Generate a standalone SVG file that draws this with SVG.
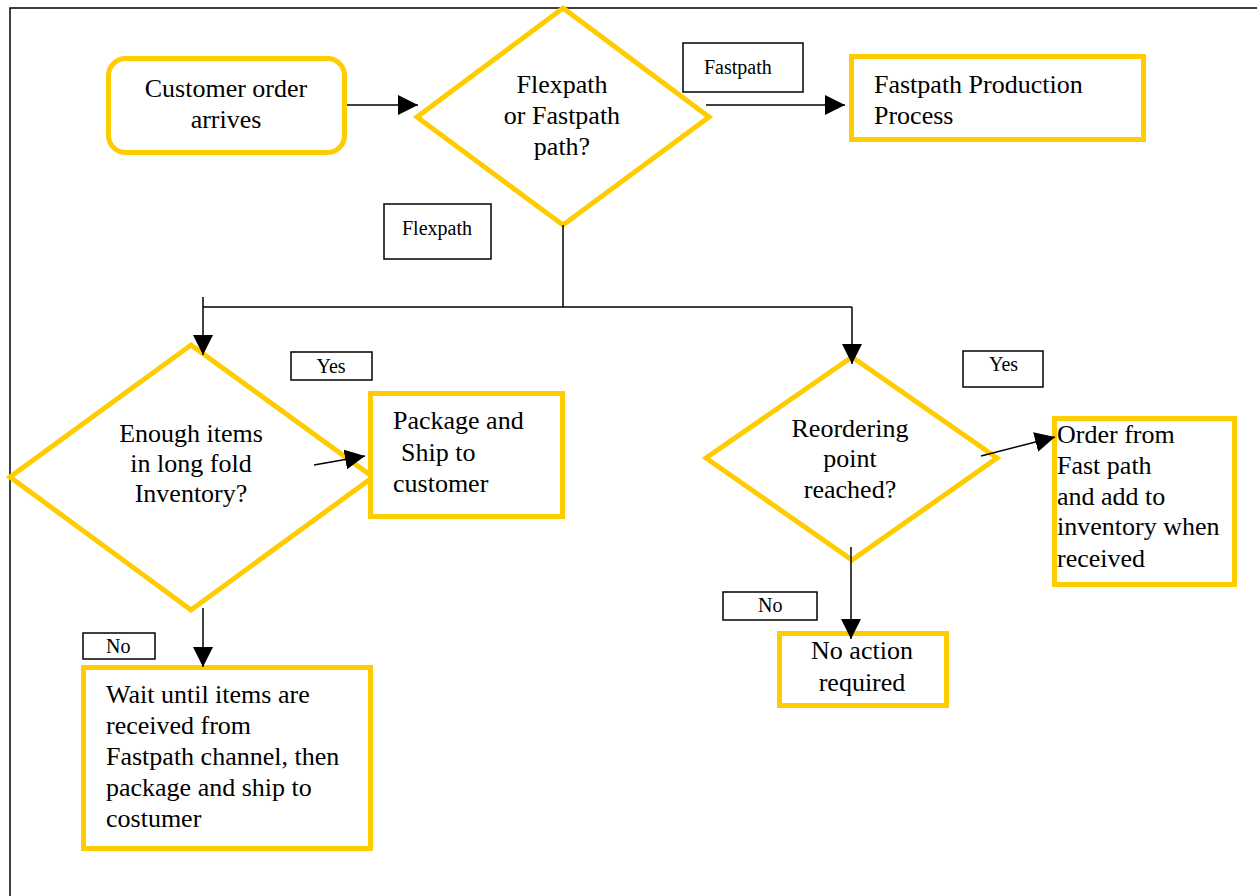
<svg xmlns="http://www.w3.org/2000/svg" width="1257" height="896" viewBox="0 0 1257 896">
<style>
  .node { fill: #ffffff; stroke: #FFCC00; stroke-width: 5; }
  .lbl { fill: #ffffff; stroke: #000000; stroke-width: 1.5; }
  .t { font-family: "Liberation Serif", "Times New Roman", serif; font-size: 26px; fill: #000000; }
  .s { font-family: "Liberation Serif", "Times New Roman", serif; font-size: 20px; fill: #000000; }
  .c { text-anchor: middle; }
  .conn { stroke: #000000; stroke-width: 1.5; fill: none; }
  .frame { stroke: #000000; stroke-width: 1.5; fill: none; }
</style>
<defs>
  <marker id="arr" markerUnits="userSpaceOnUse" markerWidth="21" markerHeight="20" refX="20" refY="10" orient="auto">
    <path d="M0,0 L20,10 L0,20 z" fill="#000000"/>
  </marker>
</defs>
<rect x="0" y="0" width="1257" height="896" fill="#ffffff"/>
<g id="frame">
  <path class="frame" d="M10,896 L10,8 L1257,8"/>
</g>

<g id="customer-order">
  <rect class="node" x="108.5" y="58.5" width="236" height="94" rx="17"/>
  <text class="t c" x="226" y="97">Customer order</text>
  <text class="t c" x="226" y="128">arrives</text>
</g>

<g id="path-decision">
  <polygon class="node" points="563,8 709,117 563,225 417,117"/>
  <text class="t c" x="562" y="93">Flexpath</text>
  <text class="t c" x="562" y="124">or Fastpath</text>
  <text class="t c" x="562" y="155">path?</text>
</g>

<g id="fastpath-production">
  <rect class="node" x="851.5" y="56.5" width="292" height="83"/>
  <text class="t" x="874" y="93">Fastpath Production</text>
  <text class="t" x="874" y="124">Process</text>
</g>

<g id="label-fastpath">
  <rect class="lbl" x="683" y="43" width="120" height="49"/>
  <text class="s" x="704" y="74">Fastpath</text>
</g>

<g id="label-flexpath">
  <rect class="lbl" x="384" y="204" width="107" height="55"/>
  <text class="s" x="402" y="235">Flexpath</text>
</g>

<g id="inventory-decision">
  <polygon class="node" points="191,345 373,477 191,610 10,477"/>
  <text class="t c" x="191" y="442">Enough items</text>
  <text class="t c" x="191" y="472">in long fold</text>
  <text class="t c" x="191" y="502">Inventory?</text>
</g>

<g id="package-ship">
  <rect class="node" x="370.5" y="393.5" width="192" height="123"/>
  <text class="t" x="393" y="429">Package and</text>
  <text class="t" x="401" y="461">Ship to</text>
  <text class="t" x="393" y="492">customer</text>
</g>

<g id="label-yes-1">
  <rect class="lbl" x="291" y="352" width="81" height="28"/>
  <text class="s c" x="331" y="373">Yes</text>
</g>

<g id="label-no-1">
  <rect class="lbl" x="83" y="633" width="72" height="26"/>
  <text class="s" x="106" y="653">No</text>
</g>

<g id="wait-items">
  <rect class="node" x="83.5" y="667.5" width="287" height="181"/>
  <text class="t" x="106" y="703">Wait until items are</text>
  <text class="t" x="106" y="734">received from</text>
  <text class="t" x="106" y="765">Fastpath channel, then</text>
  <text class="t" x="106" y="796">package and ship to</text>
  <text class="t" x="106" y="827">costumer</text>
</g>

<g id="reorder-decision">
  <polygon class="node" points="852,357 997,458 852,560 706,458"/>
  <text class="t c" x="850" y="437">Reordering</text>
  <text class="t c" x="850" y="467">point</text>
  <text class="t c" x="850" y="498">reached?</text>
</g>

<g id="label-yes-2">
  <rect class="lbl" x="963" y="351" width="80" height="36"/>
  <text class="s" x="989" y="371">Yes</text>
</g>

<g id="order-fastpath">
  <rect class="node" x="1054.5" y="418.5" width="180" height="166"/>
  <text class="t" x="1057" y="443">Order from</text>
  <text class="t" x="1057" y="474">Fast path</text>
  <text class="t" x="1057" y="505">and add to</text>
  <text class="t" x="1057" y="535">inventory when</text>
  <text class="t" x="1057" y="567">received</text>
</g>

<g id="label-no-2">
  <rect class="lbl" x="723" y="592" width="94" height="28"/>
  <text class="s" x="758" y="612">No</text>
</g>

<g id="no-action">
  <rect class="node" x="779.5" y="633.5" width="167" height="72"/>
  <text class="t c" x="862" y="659">No action</text>
  <text class="t c" x="862" y="691">required</text>
</g>

<g id="connectors">
  <line class="conn" x1="347" y1="105" x2="418" y2="105" marker-end="url(#arr)"/>
  <line class="conn" x1="706" y1="105" x2="845" y2="105" marker-end="url(#arr)"/>
  <line class="conn" x1="563" y1="225" x2="563" y2="307"/>
  <line class="conn" x1="203" y1="307" x2="852" y2="307"/>
  <line class="conn" x1="203" y1="297" x2="203" y2="355" marker-end="url(#arr)"/>
  <line class="conn" x1="852" y1="307" x2="852" y2="364" marker-end="url(#arr)"/>
  <line class="conn" x1="314" y1="465" x2="365" y2="456" marker-end="url(#arr)"/>
  <line class="conn" x1="203" y1="608" x2="203" y2="667" marker-end="url(#arr)"/>
  <line class="conn" x1="981" y1="456" x2="1055" y2="437" marker-end="url(#arr)"/>
  <line class="conn" x1="851" y1="547" x2="851" y2="639" marker-end="url(#arr)"/>
</g>
</svg>
